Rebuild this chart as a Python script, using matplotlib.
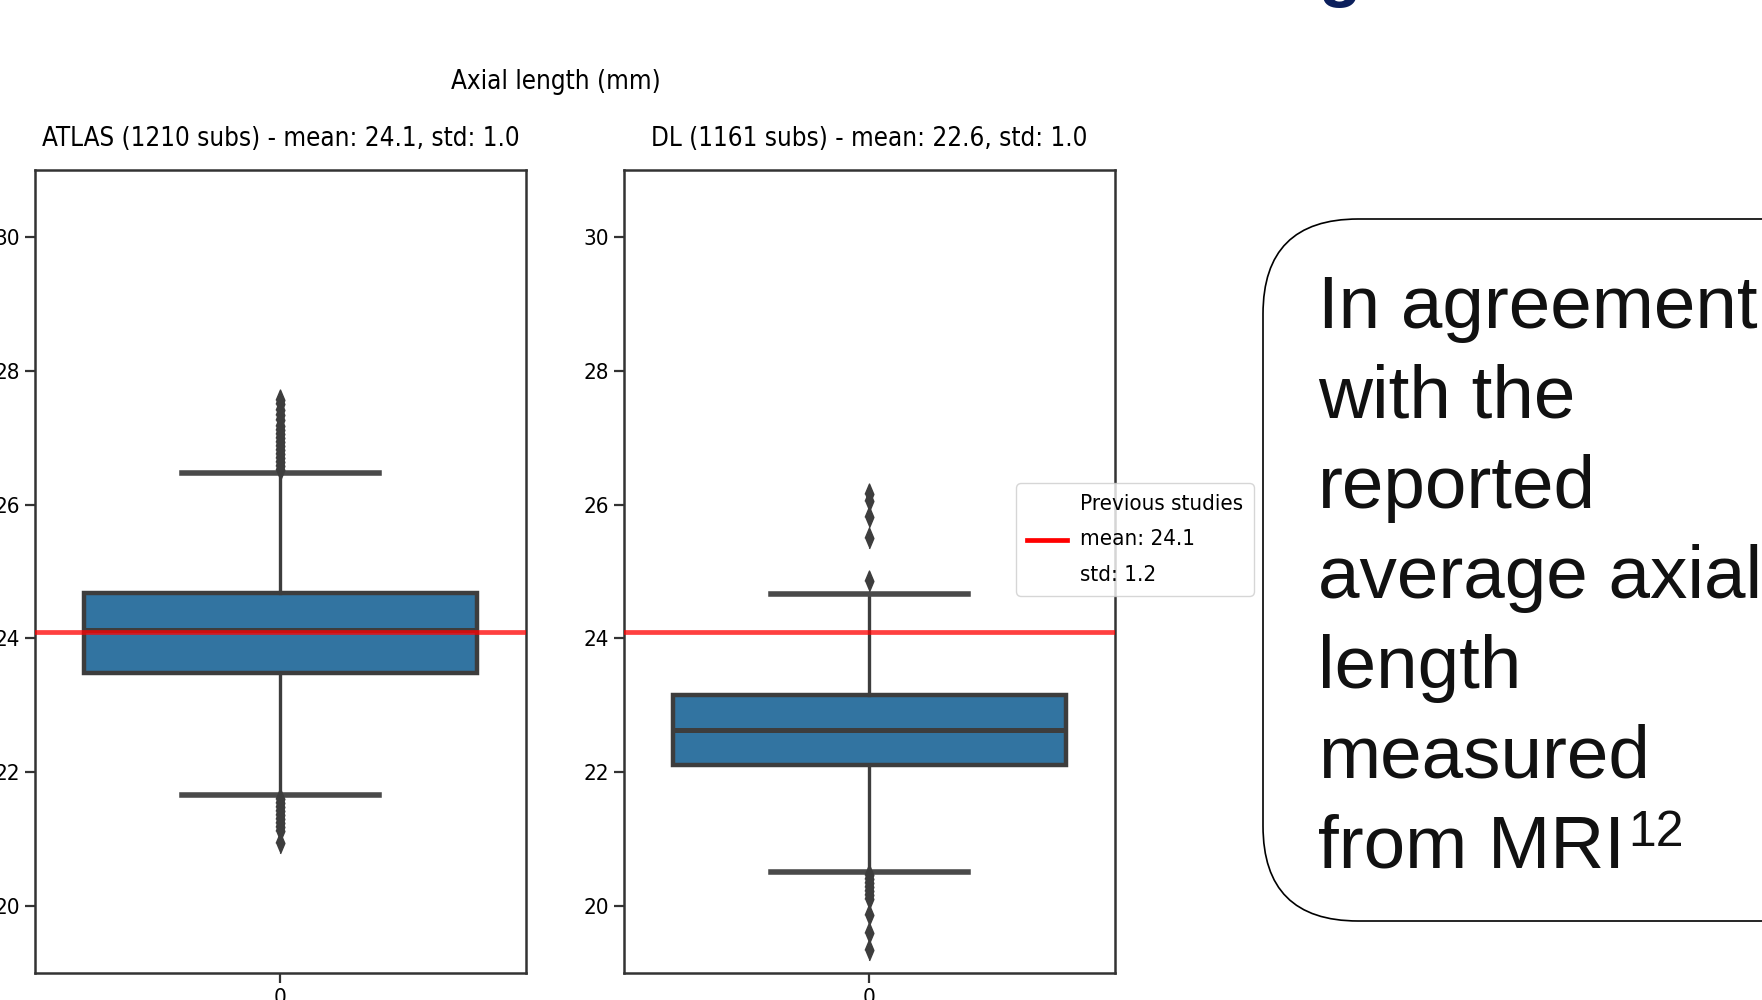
import matplotlib
matplotlib.use("Agg")
import matplotlib.pyplot as plt
from matplotlib import font_manager as fm
from matplotlib.patches import FancyBboxPatch

# Axial length summary per dataset (mm)
datasets = ["ATLAS", "DL"]
n_subjects = [1210, 1161]
means = [24.1, 22.6]
stds = [1.0, 1.0]
medians = [24.12, 22.63]
q1 = [23.48, 22.11]
q3 = [24.68, 23.16]
whisker_low = [21.66, 20.51]
whisker_high = [26.47, 24.66]
fliers_atlas = [26.52, 26.58, 26.64, 26.70, 26.76, 26.82, 26.88, 26.94, 27.00,
                27.06, 27.12, 27.18, 27.26, 27.34, 27.42, 27.50, 27.56,
                21.60, 21.54, 21.48, 21.42, 21.36, 21.30, 21.24, 21.18, 21.12, 20.94]
fliers_dl = [26.16, 26.06, 25.81, 25.50, 24.86,
             20.46, 20.40, 20.34, 20.28, 20.22, 20.16, 20.10, 19.87, 19.60, 19.34]
fliers = [fliers_atlas, fliers_dl]

# values reported in earlier studies
prev_mean = 24.1
prev_std = 1.2

yticks = [20, 22, 24, 26, 28, 30]

blue = "#3274a1"
gray = "#3d3d3d"


def pick_narrow_font():
    # prefer a condensed DejaVu, then a narrow sans, else plain DejaVu
    for f in fm.fontManager.ttflist:
        base = f.fname.split("/")[-1]
        if base == "DejaVuSansCondensed.ttf":
            return dict(family=f.name, stretch=f.stretch)
    names = {f.name for f in fm.fontManager.ttflist}
    if "Liberation Sans Narrow" in names:
        return dict(family="Liberation Sans Narrow", stretch="normal")
    return dict(family="DejaVu Sans", stretch="normal")


narrow = pick_narrow_font()
plt.rcParams["font.family"] = narrow["family"]
plt.rcParams["font.stretch"] = narrow["stretch"]
base_size = 16
title_size = 18.6

W, H = 1762, 1000
fig = plt.figure(figsize=(W / 100, H / 100), dpi=100)


def px_rect(x0, y0, x1, y1):
    return [x0 / W, 1 - y1 / H, (x1 - x0) / W, (y1 - y0) / H]


# overlay in pixel coordinates for the slide elements
over = fig.add_axes([0, 0, 1, 1], zorder=0)
over.set_xlim(0, W)
over.set_ylim(H, 0)
over.axis("off")

ax_left = fig.add_axes(px_rect(35, 170, 526, 973), zorder=2)
ax_right = fig.add_axes(px_rect(624, 170, 1115, 973), zorder=2)

for i, ax in enumerate([ax_left, ax_right]):
    stats = [dict(med=medians[i], q1=q1[i], q3=q3[i],
                  whislo=whisker_low[i], whishi=whisker_high[i],
                  fliers=fliers[i])]
    ax.bxp(stats, positions=[0], widths=0.8, patch_artist=True,
           boxprops=dict(facecolor=blue, edgecolor=gray, linewidth=3.2),
           medianprops=dict(color=gray, linewidth=3.6),
           whiskerprops=dict(color=gray, linewidth=2.4),
           capprops=dict(color="#4a4a4a", linewidth=4.0),
           flierprops=dict(marker=[(0, -1), (0.42, 0), (0, 1), (-0.42, 0)],
                           markersize=15, markerfacecolor=gray,
                           markeredgecolor=gray, linestyle="none"))
    ax.axhline(prev_mean, color="red", linewidth=3.4, alpha=0.75, zorder=5,
               label=f"Previous studies\nmean: {prev_mean}\nstd: {prev_std}")
    ax.set_xlim(-0.5, 0.5)
    ax.set_ylim(19.0, 31.0)
    ax.set_xticks([0])
    ax.set_xticklabels(["0"])
    ax.set_yticks(yticks)
    ax.tick_params(labelsize=base_size, length=7, width=1.6, color="#333333",
                   pad=4)
    for s in ax.spines.values():
        s.set_linewidth(1.8)
        s.set_color("#333333")
    ax.set_title(f"{datasets[i]} ({n_subjects[i]} subs) - mean: {means[i]}, "
                 f"std: {stds[i]}", fontsize=title_size, pad=17)

leg = ax_right.legend(loc="upper left", bbox_to_anchor=(0.799, 0.61),
                      borderaxespad=0, fontsize=base_size, handlelength=1.8,
                      handletextpad=0.55, framealpha=0.8, borderpad=0.5)
for t in leg.get_texts():
    t.set_linespacing(1.95)
leg.get_lines()[0].set_alpha(1.0)

over.text(556, 89, "Axial length (mm)", fontsize=title_size, ha="center",
          va="baseline")

# rounded note box on the right
note = FancyBboxPatch((1263, 219), 640, 702,
                      boxstyle="round,pad=0,rounding_size=95",
                      facecolor="white", edgecolor="black", linewidth=1.2)
over.add_patch(note)

note_lines = ["In agreement", "with the", "reported", "average axial",
              "length", "measured", "from MRI"]
last = None
for k, line in enumerate(note_lines):
    last = over.text(1318, 328 + 90 * k, line, fontsize=53.8,
                     family="Liberation Sans", stretch="normal",
                     color="#111111", va="baseline", ha="left")
over.annotate("12", xy=(1, 1), xycoords=last, xytext=(3, 4),
              textcoords="offset pixels", fontsize=36,
              family="Liberation Sans", stretch="normal",
              color="#111111", va="top", ha="left")

# bottom of the slide heading above the chart
over.text(1318, -6, "g", fontsize=50, family="Liberation Sans",
          stretch="normal", weight="bold", color="#0b1f5c", va="baseline")

fig.savefig("out.png", dpi=100)
